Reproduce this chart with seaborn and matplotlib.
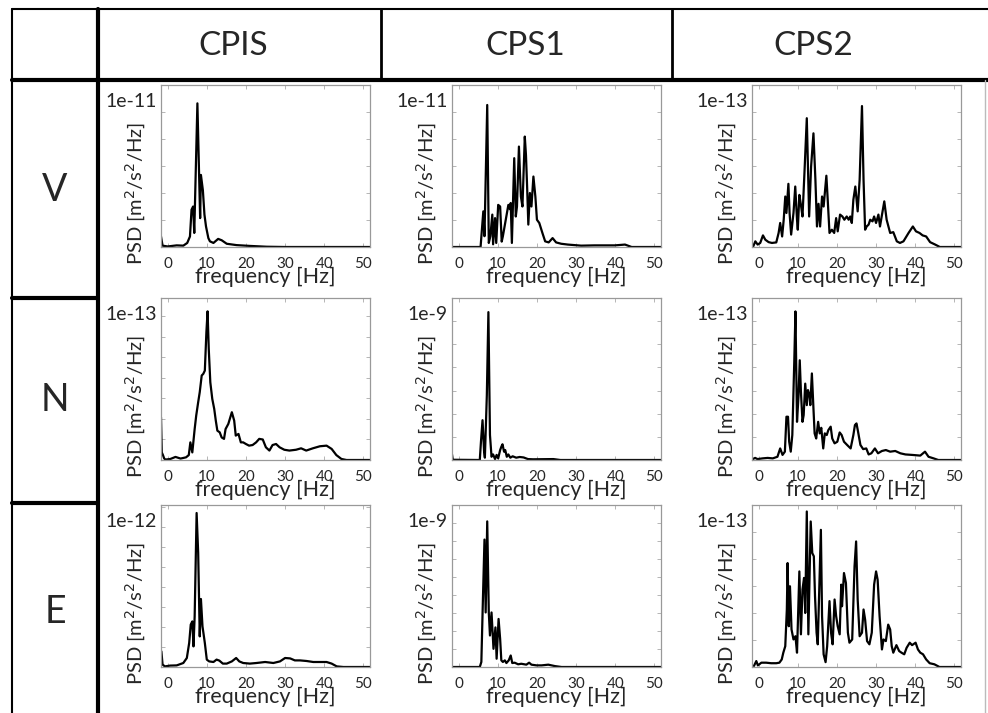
import pandas as pd
import matplotlib.pyplot as plt
import seaborn as sns

sns.set_theme(style='white')
plt.rcParams['font.family'] = ['Lato', 'DejaVu Sans']

# table headers
stations = ['CPIS', 'CPS1', 'CPS2']
components = ['V', 'N', 'E']
scales = [['1e-11', '1e-11', '1e-13'],
          ['1e-13', '1e-9', '1e-13'],
          ['1e-12', '1e-9', '1e-13']]
# y axis top (in units of the scale above)
y_tops = [[6, 6, 6],
          [7.9, 7, 7],
          [8.1, 9, 6]]
x_ticks = [0, 10, 20, 30, 40, 50]

# PSD curves (frequency in Hz, PSD in units of scale)
freq_v_cpis = [-1.7, -1.3, 0, 2.3, 4, 5, 5.7, 6.1, 6.5, 6.8, 7.6, 8.3, 8.5, 9.0, 9.4, 9.8, 10.4, 10.8,
               11.7, 12.9, 13.8, 15.1, 17.6, 21, 25.3, 30, 51.7]
psd_v_cpis = [0.39, 0.05, 0.02, 0.06, 0.05, 0.15, 0.39, 1.38, 1.5, 0.52, 5.32, 1.07, 2.67, 2.1, 1.2, 0.76,
              0.33, 0.21, 0.15, 0.3, 0.25, 0.12, 0.07, 0.04, 0.01, 0.0, 0.0]

freq_v_cps1 = [-1.7, 5.6, 6.3, 6.6, 7.3, 7.7, 8.1, 8.6, 8.8, 9.3, 9.6, 10.1, 10.6, 11.0, 11.3, 12.7, 13.1,
               13.3, 13.6, 14.2, 14.6, 14.9, 15.4, 15.9, 16.3, 16.9, 17.2, 17.5, 17.8, 18.2, 18.6, 19.1,
               19.6, 20.0, 20.6, 21.4, 22.1, 23, 24, 24.9, 26.2, 27.9, 31.3, 34.7, 39.9, 42.5, 44.2, 51.7]
psd_v_cps1 = [0, 0, 1.32, 0.4, 5.26, 0.15, 0.4, 1.2, 0.1, 1.07, 0.15, 1.56, 1.5, 0.2, 0.4, 1.56, 1.4,
              1.63, 0.15, 3.29, 1.13, 1.5, 3.72, 1.87, 1.5, 4.09, 3.4, 2.2, 0.83, 2.0, 1.5, 2.61,
              1.87, 1.01, 0.89, 0.52, 0.21, 0.17, 0.33, 0.17, 0.12, 0.09, 0.05, 0.06, 0.06, 0.09, 0.0, 0]

freq_v_cps2 = [-1.4, -0.85, -0.25, 0.4, 1.1, 1.7, 2.55, 3.4, 4.5, 5.1, 5.5, 6.0, 6.4, 6.8, 7.1, 7.6, 7.9,
               8.3, 8.9, 9.35, 9.8, 10.0, 10.4, 10.8, 11.2, 11.7, 12.3, 12.9, 13.4, 14.0, 14.5, 14.9,
               15.3, 15.7, 16.2, 16.6, 17.3, 17.6, 18.1, 18.7, 19.3, 19.8, 20.2, 20.8, 21.4, 21.9, 22.5,
               23.0, 23.4, 23.8, 24.2, 24.7, 25.3, 25.8, 26.4, 26.8, 27.2, 27.6, 28.1, 28.5, 29.1, 29.5,
               30.0, 30.6, 31.0, 32.1, 32.7, 33.6, 34.4, 35.3, 36.1, 37.0, 38.3, 39.4, 40.2, 41.1, 41.9,
               42.8, 43.8, 45.1, 46.3, 51.7]
psd_v_cps2 = [0.02, 0.21, 0.09, 0.15, 0.43, 0.27, 0.18, 0.15, 0.17, 0.52, 0.89, 0.39, 1.01, 1.87, 1.26,
              2.34, 1.26, 0.46, 1.26, 2.24, 1.01, 0.64, 1.93, 1.56, 1.13, 2.74, 4.77, 1.13, 2.98, 4.21,
              2.49, 0.76, 1.6, 0.76, 1.87, 1.5, 2.64, 1.87, 0.52, 0.64, 0.52, 1.07, 0.58, 1.2, 1.13, 1.01,
              1.13, 1.01, 1.13, 0.89, 1.75, 2.24, 1.32, 2.49, 5.22, 2.49, 0.64, 0.76, 0.83, 1.01, 0.95,
              1.13, 0.89, 1.2, 0.76, 1.69, 1.01, 0.52, 0.55, 0.21, 0.15, 0.21, 0.52, 0.76, 0.58, 0.52,
              0.43, 0.39, 0.18, 0.09, 0.0, 0.0]

freq_n_cpis = [-1.7, -1.5, -1.2, -0.9, -0.6, 0.7, 2.0, 3.3, 4.7, 5.4, 5.8, 6.3, 6.9, 7.3, 7.8, 8.2, 8.7,
               9.1, 9.5, 9.9, 10.2, 10.5, 10.9, 11.4, 11.9, 12.3, 12.7, 13.3, 13.8, 14.4, 14.8, 15.5,
               16.4, 17.0, 17.4, 18.1, 18.7, 19.3, 20.0, 20.8, 21.7, 22.6, 23.4, 24.3, 25.1, 26.0, 26.8,
               27.7, 28.6, 29.8, 31.1, 32.8, 34.1, 35.4, 37.1, 38.9, 40.6, 41.9, 43.1, 44.4, 45.7, 51.7]
psd_n_cpis = [2.08, 0.37, 0.24, 0.08, 0.02, 0.05, 0.15, 0.07, 0.13, 0.24, 0.86, 0.37, 1.51, 2.17, 2.82,
              3.31, 4.12, 4.2, 4.36, 6.24, 7.25, 5.42, 3.79, 2.98, 2.49, 1.92, 1.43, 1.35, 1.1, 1.03,
              1.51, 1.76, 2.33, 1.92, 1.19, 1.27, 0.86, 0.86, 0.78, 0.7, 0.73, 0.86, 1.03, 1.0, 0.62,
              0.46, 0.73, 0.78, 0.62, 0.5, 0.46, 0.5, 0.57, 0.46, 0.57, 0.67, 0.7, 0.54, 0.24, 0.05, 0.0, 0.0]

freq_n_cps1 = [-1.7, -1.5, 5.4, 5.7, 6.1, 6.5, 6.7, 7.2, 7.6, 8.0, 8.4, 8.8, 9.3, 9.7, 10.1, 10.6, 10.9,
               11.2, 11.6, 11.9, 12.3, 12.7, 13.2, 13.8, 14.7, 15.6, 16.6, 17.7, 19.0, 24.2, 26.0, 51.7]
psd_n_cps1 = [0.24, 0.01, 0.0, 0.79, 1.72, 0.36, 0.1, 2.8, 6.39, 1.08, 0.14, 0.24, 0.04, 0.22, 0.07,
              0.43, 0.57, 0.68, 0.36, 0.43, 0.14, 0.24, 0.1, 0.16, 0.1, 0.13, 0.11, 0.04, 0.03, 0.04,
              0.0, 0.0]

freq_n_cps2 = [-1.5, -0.9, -0.3, 1.0, 2.3, 3.6, 4.8, 5.5, 6.1, 6.7, 7.1, 7.5, 7.8, 8.2, 8.6, 9.1, 9.4, 9.8,
               10.2, 10.5, 10.8, 11.2, 11.5, 11.9, 12.3, 12.6, 13.0, 13.2, 13.6, 14.0, 14.3, 14.7, 15.2,
               15.6, 16.0, 16.5, 16.9, 17.4, 17.8, 18.4, 18.8, 19.4, 20.1, 20.7, 21.2, 21.8, 22.6, 23.5,
               24.2, 24.6, 25.0, 25.4, 26.0, 26.7, 27.5, 28.1, 28.8, 29.7, 30.5, 31.5, 32.5, 33.6, 34.9,
               36.2, 37.5, 39.2, 41.3, 42.5, 43.4, 44.7, 45.9, 51.7]
psd_n_cps2 = [0.04, 0.09, 0.04, 0.07, 0.09, 0.07, 0.14, 0.5, 0.22, 0.36, 1.87, 1.87, 0.79, 0.36, 1.08,
              4.24, 6.42, 1.65, 2.8, 4.31, 2.95, 1.65, 1.94, 3.3, 2.37, 3.02, 2.8, 2.37, 3.74, 2.23,
              1.15, 0.93, 1.65, 1.15, 1.39, 0.5, 1.15, 1.08, 1.29, 1.44, 0.93, 0.72, 0.79, 1.19, 1.08,
              0.79, 0.65, 0.5, 1.08, 1.51, 1.58, 1.22, 0.65, 0.47, 0.5, 0.24, 0.29, 0.5, 0.29, 0.39,
              0.43, 0.36, 0.39, 0.29, 0.24, 0.22, 0.19, 0.36, 0.14, 0.07, 0.0, 0.0]

freq_e_cpis = [-1.6, -1.3, -0.7, 0.6, 2.3, 4.0, 4.9, 5.5, 5.9, 6.3, 6.6, 6.9, 7.4, 7.8, 8.2, 8.5, 8.9, 9.2,
               9.5, 10.0, 10.6, 11.7, 12.5, 13.2, 14.1, 15.1, 16.4, 17.5, 18.3, 19.3, 21.0, 22.7, 24.9,
               27.0, 28.7, 30.0, 31.3, 32.5, 33.8, 35.5, 37.2, 38.9, 40.6, 41.9, 43.2, 44.9, 51.7]
psd_e_cpis = [0.78, 0.12, 0.03, 0.07, 0.08, 0.2, 0.45, 1.2, 2.12, 2.28, 1.03, 2.53, 7.7, 5.7, 1.53, 3.4,
              2.03, 1.62, 1.2, 0.37, 0.28, 0.25, 0.37, 0.32, 0.17, 0.17, 0.28, 0.45, 0.28, 0.2, 0.17,
              0.2, 0.25, 0.2, 0.28, 0.45, 0.43, 0.33, 0.33, 0.3, 0.25, 0.25, 0.25, 0.17, 0.03, 0.0, 0.0]

freq_e_cps1 = [-1.6, 5.4, 5.8, 6.2, 6.6, 6.9, 7.3, 7.7, 8.0, 8.4, 8.9, 9.4, 9.7, 10.2, 10.6, 10.9, 11.3,
               11.8, 12.2, 12.8, 13.3, 13.7, 14.3, 15.2, 16.0, 17.3, 18.0, 18.6, 19.9, 21.2, 22.9, 24.6,
               26.3, 51.7]
psd_e_cps1 = [0.0, 0.0, 0.28, 3.77, 7.08, 3.03, 8.09, 3.03, 1.75, 3.03, 1.01, 2.2, 0.46, 2.67, 1.56,
              0.37, 0.28, 0.37, 0.22, 0.37, 0.64, 0.22, 0.24, 0.15, 0.18, 0.13, 0.24, 0.13, 0.09, 0.09,
              0.13, 0.05, 0.0, 0.0]

freq_e_cps2 = [-1.2, -0.6, -0.2, 0.7, 1.9, 3.2, 4.5, 5.3, 5.9, 6.3, 6.8, 7.2, 7.4, 7.7, 8.0, 8.4, 8.9,
               9.4, 9.8, 10.4, 10.8, 11.2, 11.6, 11.9, 12.3, 12.7, 13.3, 13.7, 14.1, 14.4, 14.8, 15.1,
               15.9, 16.2, 16.6, 17.1, 17.5, 18.1, 18.5, 18.9, 19.4, 19.8, 20.2, 20.7, 21.1, 21.3, 21.8,
               22.3, 22.8, 23.2, 23.9, 24.5, 24.9, 25.3, 25.8, 26.4, 26.8, 27.2, 27.7, 28.3, 28.9, 29.5,
               30.0, 30.4, 30.9, 31.5, 31.9, 32.5, 33.1, 33.6, 34.0, 34.4, 35.2, 35.9, 36.5, 37.2, 37.8,
               38.6, 39.2, 40.1, 40.7, 41.3, 42.0, 42.8, 43.7, 44.9, 46.2, 51.7]
psd_e_cps2 = [0.04, 0.22, 0.06, 0.16, 0.16, 0.14, 0.14, 0.16, 0.28, 0.53, 0.77, 2.13, 3.85, 1.51, 2.99,
              1.39, 1.02, 1.14, 0.53, 3.54, 1.21, 2.87, 3.3, 2.0, 5.76, 1.21, 5.39, 4.22, 4.1, 2.62,
              1.27, 0.84, 5.08, 1.88, 0.47, 0.18, 0.77, 2.44, 1.27, 0.84, 2.5, 1.88, 1.51, 1.21, 3.05,
              2.25, 3.48, 3.11, 1.27, 0.9, 1.02, 3.73, 4.65, 2.5, 1.14, 1.27, 2.13, 1.76, 0.96, 0.84,
              1.27, 3.05, 3.54, 3.23, 1.88, 0.65, 1.02, 0.96, 1.57, 1.39, 0.77, 0.53, 0.81, 0.59, 0.53,
              0.47, 0.71, 0.9, 0.81, 0.9, 0.65, 0.53, 0.47, 0.28, 0.14, 0.1, 0.0, 0.0]

curves = [[(freq_v_cpis, psd_v_cpis), (freq_v_cps1, psd_v_cps1), (freq_v_cps2, psd_v_cps2)],
          [(freq_n_cpis, psd_n_cpis), (freq_n_cps1, psd_n_cps1), (freq_n_cps2, psd_n_cps2)],
          [(freq_e_cpis, psd_e_cpis), (freq_e_cps1, psd_e_cps1), (freq_e_cps2, psd_e_cps2)]]

W, H = 988, 713
fig = plt.figure(figsize=(W / 100, H / 100), dpi=100)
fig.patch.set_facecolor('white')


def rect(l, t, r, b):   # pixel box -> figure fraction
    return [l / W, 1 - b / H, (r - l) / W, (b - t) / H]


def hline(y, x0, x1, lw, color='black'):
    fig.add_artist(plt.Line2D([x0 / W, x1 / W], [1 - y / H, 1 - y / H], transform=fig.transFigure,
                              color=color, lw=lw))


def vline(x, y0, y1, lw, color='black'):
    fig.add_artist(plt.Line2D([x / W, x / W], [1 - y0 / H, 1 - y1 / H], transform=fig.transFigure,
                              color=color, lw=lw))


col_px = [(161, 370), (452, 661), (752, 961)]
row_px = [(85, 247), (298, 460), (505, 667)]

for i in range(3):
    for j in range(3):
        l, r = col_px[j]
        t, b = row_px[i]
        ax = fig.add_axes(rect(l, t, r, b))
        freq, psd = curves[i][j]
        df = pd.DataFrame({'freq': freq, 'psd': psd})
        sns.lineplot(data=df, x='freq', y='psd', ax=ax, color='black', lw=1.6, estimator=None)
        ax.set_xlim(-1.7, 51.7)
        ax.set_ylim(0, y_tops[i][j])
        ax.set_xticks(x_ticks)
        ax.set_yticks(range(0, int(y_tops[i][j]) + 1))
        ax.tick_params(axis='both', direction='in', length=3, width=0.6, color='#aaaaaa',
                       top=True, right=True, bottom=True, left=True, labelleft=False, labelsize=11,
                       pad=7)
        for sp in ax.spines.values():
            sp.set_color('#999999')
            sp.set_linewidth(0.9)
        ax.set_xlabel('frequency [Hz]', fontsize=15.5, labelpad=-3)
        ax.set_ylabel('PSD [m$^2$/s$^2$/Hz]', fontsize=14.5)
        ax.yaxis.set_label_coords(-0.062, 0.333)
        ax.text(-0.02, 0.95, scales[i][j], transform=ax.transAxes, ha='right', va='top', fontsize=14)

# table frame
hline(9, 12, 988, 1.5)
vline(12, 9, 713, 1.5)
vline(98, 9, 713, 3)
hline(80, 12, 988, 3)
vline(381, 9, 80, 2)
vline(672, 9, 80, 2)
hline(298, 12, 98, 3)
hline(503, 12, 98, 3)
vline(985, 80, 713, 1, '#bbbbbb')

head_x = [233, 525, 813]
for name, x in zip(stations, head_x):
    fig.text(x / W, 1 - 46 / H, name, ha='center', va='center', fontsize=24)

row_y = [190, 400, 612]
for name, y in zip(components, row_y):
    fig.text(55 / W, 1 - y / H, name, ha='center', va='center', fontsize=27)

fig.savefig('out.png', dpi=100, facecolor='white')
